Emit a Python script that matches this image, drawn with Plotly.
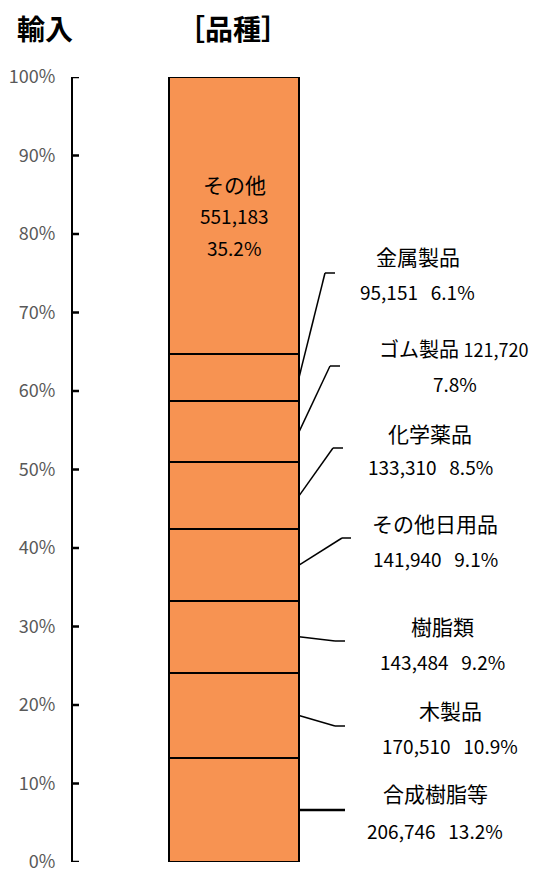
import plotly.graph_objects as go

# ---- data ----
categories = ["合成樹脂等", "木製品", "樹脂類", "その他日用品", "化学薬品", "ゴム製品", "金属製品", "その他"]
values = [206746, 170510, 143484, 141940, 133310, 121720, 95151, 551183]
y_ticks = [0, 10, 20, 30, 40, 50, 60, 70, 80, 90, 100]

total = sum(values)
shares = [v / total * 100 for v in values]

OFF = 8  # default page body margin
W, H = 539 - OFF, 870 - OFF
L, R, T, B = 73 - OFF, 0, 77 - OFF, 8
PW, PH = W - L - R, H - T - B
BAR_L, BAR_R = 169, 299  # screen px
unit = BAR_R - BAR_L
x0 = -0.5 - (BAR_L - OFF - L) / unit
x1 = x0 + PW / unit


def X(px):
    return (px - OFF - L) / PW


def Y(py):
    return (H - B - (py - OFF)) / PH


def Yd(py):
    return Y(py) * 100


FONT = "Noto Sans CJK JP"
ORANGE = "#F79352"

fig = go.Figure()
for name, s in zip(categories, shares):
    fig.add_trace(go.Bar(x=[0], y=[s], name=name, width=1,
                         marker=dict(color=ORANGE, line=dict(color="black", width=2)),
                         hoverinfo="skip"))

mids = []
acc = 0
for s in shares:
    mids.append(acc + s / 2)
    acc += s

leaders = {
    0: (345, None, 345),
    1: (335, 726, 345),
    2: (335, 641, 345),
    3: (342, 538, 351),
    4: (333, 448, 343),
    5: (330, 366, 340),
    6: (325, 273, 335),
}
shapes = []
for i, (kx, ky, ex) in leaders.items():
    ym = mids[i]
    if ky is None:
        shapes.append(dict(type="line", xref="paper", yref="y", x0=X(BAR_R), x1=X(ex), y0=ym, y1=ym,
                           line=dict(color="black", width=2.5)))
    else:
        kyv = Yd(ky)
        shapes.append(dict(type="line", xref="paper", yref="y", x0=X(BAR_R), x1=X(kx), y0=ym, y1=kyv,
                           line=dict(color="black", width=1.5)))
        shapes.append(dict(type="line", xref="paper", yref="y", x0=X(kx), x1=X(ex), y0=kyv, y1=kyv,
                           line=dict(color="black", width=1.5)))

# axis tick marks pointing into the plot
for v in y_ticks:
    shapes.append(dict(type="line", xref="paper", yref="y", x0=0, x1=6 / PW, y0=v, y1=v,
                       line=dict(color="black", width=2.5)))

sp = "\u00a0\u00a0\u00a0"


def fmt(i):
    return f"{values[i]:,}", f"{shares[i]:.1f}%"


label_pos = {
    6: (418, 256, 417, 291),
    5: (453, 348, 455, 383),
    4: (430, 433, 430, 466),
    3: (435, 523, 435, 558),
    2: (442, 626, 442, 661),
    1: (450, 710, 450, 745),
    0: (435, 793, 435, 830),
}
annotations = []
FS_CJK = 21
FS_NUM = 19


def ann(text, px, py, size):
    annotations.append(dict(text=text, x=X(px), y=Y(py), xref="paper", yref="paper", showarrow=False,
                            xanchor="center", yanchor="middle",
                            font=dict(size=size, color="black", family=FONT)))


for i, (ax1, ay1, ax2, ay2) in label_pos.items():
    num, pc = fmt(i)
    if i == 5:
        ann(f"{categories[i]} <span style='font-size:18px'>{num}</span>", ax1, ay1, 20)
        ann(pc, ax2, ay2, FS_NUM)
    else:
        ann(categories[i], ax1, ay1, FS_CJK)
        ann(f"{num}{sp}{pc}", ax2, ay2, FS_NUM)

num, pc = fmt(7)
ann(categories[7], 234, 184, FS_CJK)
ann(num, 234, 216, FS_NUM)
ann(pc, 234, 248, FS_NUM)

ann("<b>輸入</b>", 45, 28, 28)
ann("<b>［品種］</b>", 233, 28, 28)

fig.update_layout(
    width=W, height=H,
    margin=dict(l=L, r=R, t=T, b=B, pad=0, autoexpand=False),
    barmode="stack",
    showlegend=False,
    plot_bgcolor="white", paper_bgcolor="white",
    shapes=shapes,
    annotations=annotations,
    xaxis=dict(range=[x0, x1], visible=False, fixedrange=True),
    yaxis=dict(range=[0, 100], tickmode="array", tickvals=y_ticks,
               ticktext=[f"{v}%\u00a0\u00a0\u00a0" for v in y_ticks],
               showgrid=False, zeroline=False,
               showline=True, linecolor="black", linewidth=2,
               ticks="", ticklabeloverflow="allow",
               tickfont=dict(size=18, color="#595959", family=FONT)),
)

fig.write_html("out.html")
